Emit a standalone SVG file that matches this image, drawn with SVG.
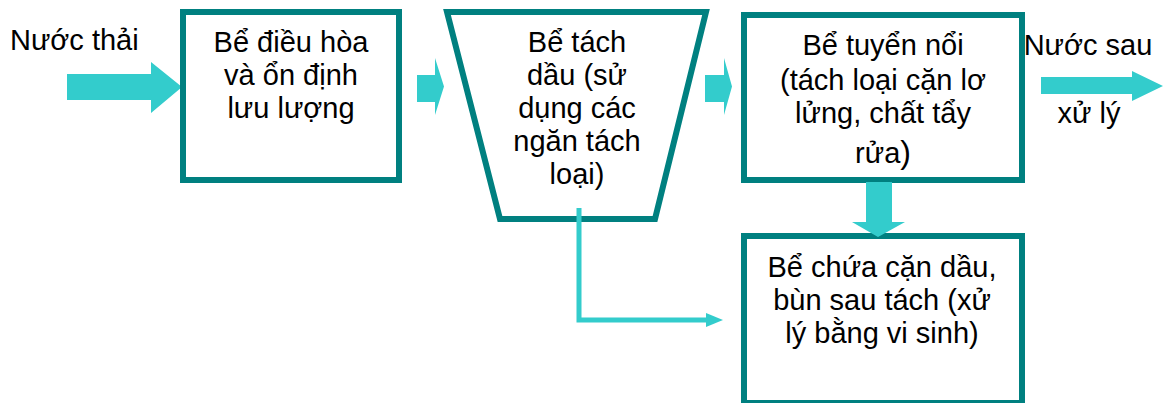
<svg xmlns="http://www.w3.org/2000/svg" width="1165" height="403" viewBox="0 0 1165 403">
<style>
.box{fill:#fff;stroke:#008080;stroke-width:6}
.t{font-family:"Liberation Sans",Arial,sans-serif;font-size:29px;fill:#000;text-anchor:middle}
.arr{fill:#33CCCC}
.ln{fill:none;stroke:#33CCCC;stroke-width:5}
</style>
<rect width="1165" height="403" fill="#fff"/>
<g id="connectors">
  <polygon class="arr" points="67,74 151,74 151,62 182,87 151,113 151,100 67,100"/>
  <polygon class="arr" points="417,75 435,75 435,58 444,86.5 435,115 435,102 417,102"/>
  <polygon class="arr" points="705,75 724,75 724,58 732,86.5 724,115 724,102 705,102"/>
  <polygon class="arr" points="1041,77 1132,77 1132,71 1163,86 1132,101 1132,94 1041,94"/>
</g>
<g id="node-dieuhoa">
  <rect class="box" x="183" y="12" width="216" height="168"/>
  <text class="t" x="291" y="52">Bể điều hòa</text>
  <text class="t" x="291" y="85">và ổn định</text>
  <text class="t" x="291" y="118">lưu lượng</text>
</g>
<g id="node-tachdau">
  <polygon class="box" points="447,12 706,12 655,219 500,219"/>
  <text class="t" x="577" y="52">Bể tách</text>
  <text class="t" x="577" y="85">dầu (sử</text>
  <text class="t" x="577" y="118">dụng các</text>
  <text class="t" x="577" y="151">ngăn tách</text>
  <text class="t" x="577" y="184">loại)</text>
</g>
<g id="node-tuyennoi">
  <rect class="box" x="744" y="15" width="278" height="165"/>
  <text class="t" x="883" y="55">Bể tuyển nổi</text>
  <text class="t" x="883" y="90">(tách loại cặn lơ</text>
  <text class="t" x="883" y="123">lửng, chất tẩy</text>
  <text class="t" x="883" y="163">rửa<tspan font-size="32">)</tspan></text>
</g>
<g id="node-chuacan">
  <rect class="box" x="744" y="236" width="278" height="167"/>
  <text class="t" x="882" y="277">Bể chứa cặn dầu,</text>
  <text class="t" x="882" y="310">bùn sau tách (xử</text>
  <text class="t" x="882" y="343">lý bằng vi sinh)</text>
</g>
<g id="labels">
  <text class="t" x="10" y="50" style="text-anchor:start">Nước thải</text>
  <text class="t" x="1088" y="55">Nước sau</text>
  <text class="t" x="1089" y="123">xử lý</text>
</g>
<g id="connectors-2">
  <polygon class="arr" points="866,182 892,182 892,222 905,222 878,237 852,222 866,222"/>
  <polyline class="ln" points="579,208 579,320 707,320"/>
  <polygon class="arr" points="706,313 723,320 706,327"/>
</g>
</svg>
